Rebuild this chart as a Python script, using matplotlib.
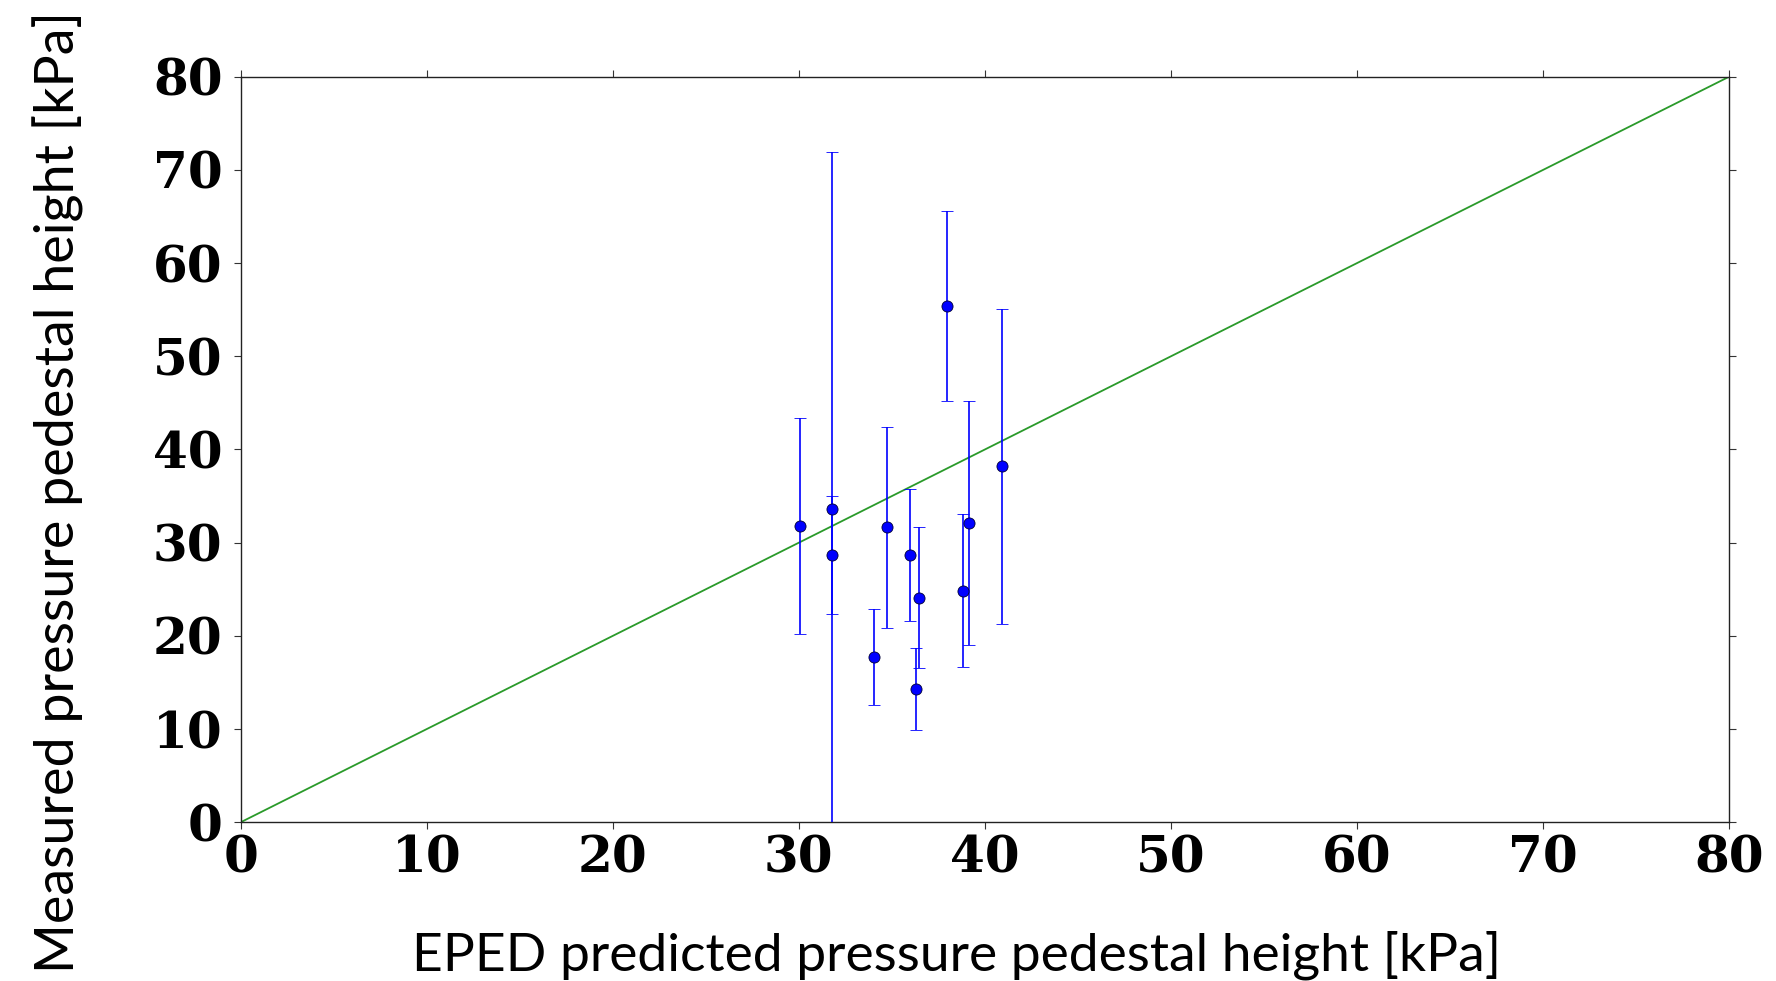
import matplotlib
matplotlib.use("Agg")
import matplotlib.pyplot as plt
import numpy as np

# EPED prediction vs measured pedestal pressure (kPa)
eped_pred = [30.07, 31.8, 31.8, 34.06, 34.76, 35.95, 36.32, 36.47, 37.96, 38.83, 39.16, 40.91]
measured = [31.8, 33.6, 28.7, 17.7, 31.65, 28.7, 14.3, 24.1, 55.4, 24.85, 32.15, 38.2]
meas_err = [11.6, 38.3, 6.3, 5.15, 10.8, 7.05, 4.35, 7.55, 10.15, 8.2, 13.1, 16.9]

ref_line = [0, 80]
ticks = [0, 10, 20, 30, 40, 50, 60, 70, 80]

fig = plt.figure(figsize=(17.76, 9.81), dpi=100)
ax = fig.add_axes([0.1355, 0.1618, 0.8381, 0.7600])

ax.plot(ref_line, ref_line, color="#2a9a2a", lw=1.3, zorder=1)
ax.errorbar(eped_pred, measured, yerr=meas_err, fmt="o", color="#0000ff",
            ecolor="#0000ff", elinewidth=1.2, capsize=4.3, capthick=1.2,
            markersize=8, markeredgecolor="#000033", markeredgewidth=0.6,
            zorder=3)

ax.set_xlim(0, 80)
ax.set_ylim(0, 80)
ax.set_xticks(ticks)
ax.set_yticks(ticks)

for s in ax.spines.values():
    s.set_linewidth(1.0)
    s.set_color("#222222")

ax.tick_params(direction="out", length=5, width=0.8, color="#333333",
               top=True, right=True, labeltop=False, labelright=False)
ax.tick_params(axis="x", pad=4)
ax.tick_params(axis="y", pad=8)
for lab in ax.get_xticklabels() + ax.get_yticklabels():
    lab.set_fontfamily("DejaVu Serif")
    lab.set_fontweight("bold")
    lab.set_fontsize(36)

# Axis titles placed in figure coordinates
fig.text(0.2318, 0.0102, "EPED predicted pressure pedestal height [kPa]",
         family="Lato", fontsize=38.4, ha="left", va="baseline")
fig.text(0.0417, 0.0085, "Measured pressure pedestal height [kPa]",
         family="Lato", fontsize=38.8, ha="left", va="baseline",
         rotation=90, rotation_mode="anchor")

fig.savefig("out.png", dpi=100)
